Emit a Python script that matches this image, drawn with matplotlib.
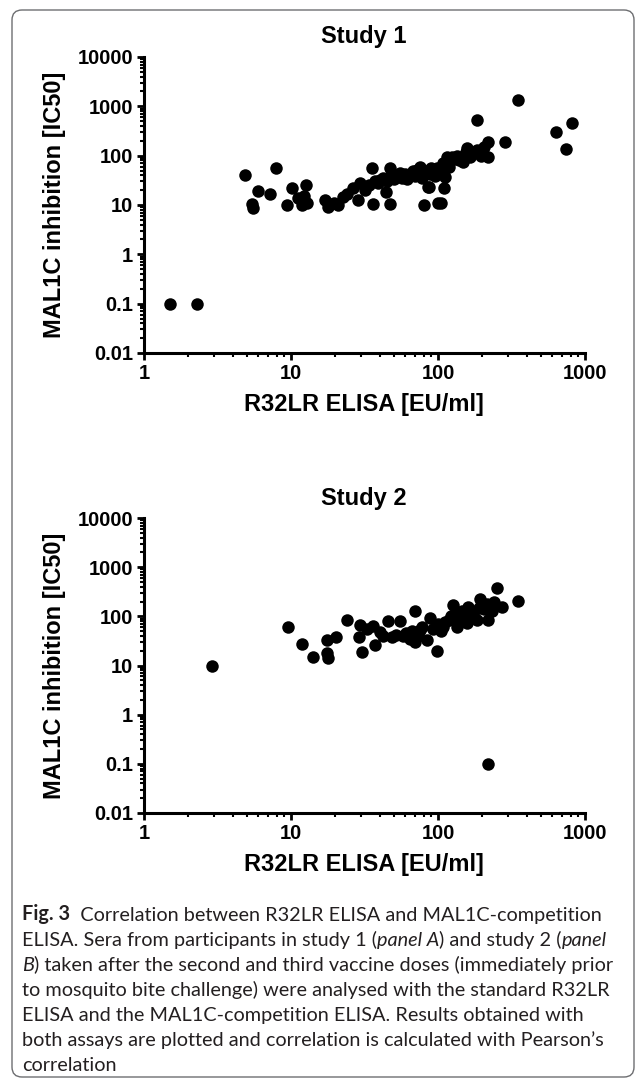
import numpy as np
import matplotlib
matplotlib.use("Agg")
import matplotlib.pyplot as plt
from matplotlib.patches import FancyBboxPatch
from matplotlib.transforms import IdentityTransform
from matplotlib.ticker import LogLocator, NullFormatter

# ---------------------------------------------------------------
# data (R32LR ELISA EU/ml, MAL1C IC50)
# ---------------------------------------------------------------
study1_x = [1.5, 2.3, 4.9, 5.4, 5.5, 6.0, 7.2, 7.9, 9.4, 10.2, 11.2, 11.8, 12.6, 12.8, 12.2,
            17, 17.9, 19.5, 20.9, 22.5, 24, 26.4, 28.5, 29.4, 32, 34, 35.6, 36, 37, 39,
            40, 42, 44, 45, 47, 47, 48, 50, 52, 55, 57, 60, 62, 65, 68, 70, 72, 75, 76, 78,
            80, 82, 85, 87, 88, 90, 92, 95, 98, 100, 102, 104, 108, 110, 111, 115, 118, 124,
            128, 135, 140, 148, 155, 158, 165, 170, 184, 184, 195, 205, 219, 219, 286, 350,
            635, 743, 816]
study1_y = [0.1, 0.1, 40, 10.5, 8.5, 19.5, 17, 55, 10, 22, 14, 10, 26, 11, 15,
            12.5, 9, 11, 10, 14.5, 17, 22, 12.5, 28, 20, 25, 56, 10.5, 30, 28,
            32, 35, 18.5, 30, 56, 10.5, 40, 33, 38, 45, 36, 42, 33, 40, 48, 38, 52, 59, 45, 35,
            10, 50, 23, 23, 42, 55, 45, 38, 56, 11, 48, 11, 70, 22, 37, 95, 60, 95,
            85, 100, 80, 75, 120, 140, 95, 110, 130, 535, 100, 150, 185, 95, 190, 1350,
            303, 138, 464]

study2_x = [2.9, 9.5, 11.9, 14.1, 17.5, 17.9, 17.6, 20.1, 24, 29.5, 29, 30.3, 33, 36, 37,
            40, 42, 46, 49, 52, 55, 58, 61, 64, 67, 70, 70, 73, 75, 78, 84, 88, 92, 98,
            100, 105, 108, 112, 118, 122, 127, 130, 134, 140, 145, 150, 157, 160, 165, 172,
            184, 190, 193, 205, 215, 220, 232, 240, 251, 272, 350, 220]
study2_y = [10, 60, 28, 15, 18, 14, 33, 38, 85, 66, 38, 19, 55, 64, 26,
            48, 40, 80, 38, 42, 80, 40, 45, 35, 50, 128, 30, 40, 52, 60, 33, 92, 55, 20,
            70, 50, 60, 75, 85, 100, 170, 110, 60, 90, 130, 100, 72, 155, 120, 110,
            85, 150, 230, 140, 180, 85, 130, 200, 370, 155, 205, 0.1]

x_ticks = [1, 10, 100, 1000]
x_ticklabels = ['1', '10', '100', '1000']
y_ticks = [0.01, 0.1, 1, 10, 100, 1000, 10000]
y_ticklabels = ['0.01', '0.1', '1', '10', '100', '1000', '10000']

titles = ['Study 1', 'Study 2']
xlabel = 'R32LR ELISA [EU/ml]'
ylabel = 'MAL1C inhibition [IC50]'

caption_lines = [
    [('Fig. 3', 'b'), ('  Correlation between R32LR ELISA and MAL1C-competition', 'r')],
    [('ELISA. Sera from participants in study 1 (', 'r'), ('panel A', 'i'),
     (') and study 2 (', 'r'), ('panel', 'i')],
    [('B', 'i'), (') taken after the second and third vaccine doses (immediately prior', 'r')],
    [('to mosquito bite challenge) were analysed with the standard R32LR', 'r')],
    [('ELISA and the MAL1C-competition ELISA. Results obtained with', 'r')],
    [('both assays are plotted and correlation is calculated with Pearson\u2019s', 'r')],
    [('correlation', 'r')],
]

# ---------------------------------------------------------------
# figure
# ---------------------------------------------------------------
W, H = 635, 1080
fig = plt.figure(figsize=(W / 100, H / 100), dpi=100)
chart_font = 'Liberation Sans'
cap_font = 'Lato'


def px_rect(left, top, right, bottom):
    return [left / W, 1 - bottom / H, (right - left) / W, (bottom - top) / H]


def draw_panel(rect, xs, ys, title, top_px, bottom_px):
    ax = fig.add_axes(rect)
    ax.plot(xs, ys, 'o', color='black', ms=9.0, mew=0, clip_on=False, zorder=3)
    ax.set_xscale('log')
    ax.set_yscale('log')
    ax.set_xlim(1, 1000)
    ax.set_ylim(0.01, 10000)
    ax.spines['top'].set_visible(False)
    ax.spines['right'].set_visible(False)
    for s in ['left', 'bottom']:
        ax.spines[s].set_linewidth(2.2)
    ax.set_xticks(x_ticks)
    ax.set_xticklabels(x_ticklabels)
    ax.set_yticks(y_ticks)
    ax.set_yticklabels(y_ticklabels)
    ax.xaxis.set_minor_locator(LogLocator(base=10, subs=np.arange(2, 10)))
    ax.yaxis.set_minor_locator(LogLocator(base=10, subs=np.arange(2, 10)))
    ax.xaxis.set_minor_formatter(NullFormatter())
    ax.yaxis.set_minor_formatter(NullFormatter())
    ax.tick_params(which='major', length=5, width=2.0, direction='out', pad=3,
                   labelsize=14.5)
    ax.tick_params(which='minor', length=3, width=1.5, direction='out')
    for lab in ax.get_xticklabels() + ax.get_yticklabels():
        lab.set_fontweight('bold')
        lab.set_family(chart_font)
    # title, axis labels
    fig.text(364 / W, 1 - (top_px - 20) / H, title, ha='center', va='center',
             fontsize=17, fontweight='bold', family=chart_font)
    fig.text(364 / W, 1 - (bottom_px + 52) / H, xlabel, ha='center', va='center',
             fontsize=17, fontweight='bold', family=chart_font)
    fig.text(54 / W, 1 - ((top_px + bottom_px) / 2) / H, ylabel, ha='center', va='center',
             rotation=90, fontsize=17, fontweight='bold', family=chart_font)
    return ax


ax1 = draw_panel(px_rect(144, 57, 585, 353), study1_x, study1_y, titles[0], 57, 353)
ax2 = draw_panel(px_rect(144, 518, 585, 813), study2_x, study2_y, titles[1], 518, 813)

# rounded frame around the whole figure
frame = FancyBboxPatch((12, 3), 622, 1067, boxstyle='round,pad=0,rounding_size=10',
                       transform=IdentityTransform(), fill=False, edgecolor='#6d6e71',
                       linewidth=1.0)
fig.patches.append(frame)

# caption, font size fitted to the longest line
renderer = fig.canvas.get_renderer()
probe = fig.text(0, 0, caption_lines[3][0][0], fontsize=10, family=cap_font)
w10 = probe.get_window_extent(renderer).width
probe.remove()
cap_fs = 10 * 588 / w10

line_y = 924
for parts in caption_lines:
    prev = None
    for txt, style in parts:
        kw = dict(fontsize=cap_fs, family=cap_font, color='#231f20')
        if style == 'b':
            kw['fontweight'] = 'bold'
        if style == 'i':
            kw['style'] = 'italic'
        if prev is None:
            prev = fig.text(22 / W, 1 - line_y / H, txt, ha='left', va='bottom', **kw)
        else:
            prev = ax2.annotate(txt, xy=(1, 0), xycoords=prev, ha='left', va='bottom',
                                annotation_clip=False, **kw)
    line_y += 25

fig.savefig('out.png', dpi=100)
